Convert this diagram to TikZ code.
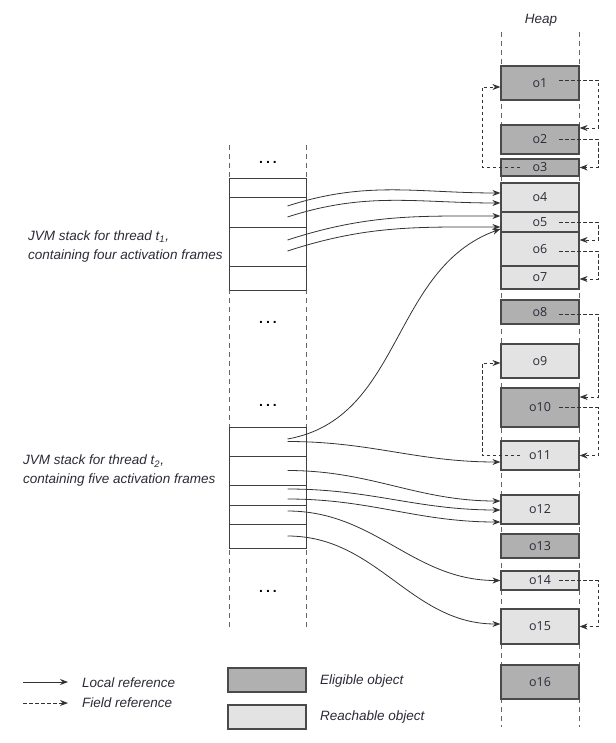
\documentclass[tikz,border=0pt]{standalone}
\usepackage{fontspec}
\setmainfont{Liberation Sans}
\newfontfamily\objfont{Open Sans}
\usetikzlibrary{arrows.meta}
\definecolor{eligible}{HTML}{B0B0B0}
\definecolor{reachable}{HTML}{E3E3E3}
\definecolor{edge}{HTML}{4A4A4A}
\definecolor{ink}{HTML}{2B2B38}
\tikzset{
	obj/.style={draw=edge, line width=1.2pt, minimum width=78pt, inner sep=0pt, text=ink, font=\objfont\fontsize{12.5}{14}\selectfont},
	elig/.style={obj, fill=eligible},
	reach/.style={obj, fill=reachable},
	actframe/.style={draw=black!75, fill=white, line width=0.9pt, minimum width=77pt, inner sep=0pt},
	lane/.style={draw=black!60, line width=0.9pt, dash pattern=on 5pt off 4pt},
	localref/.style={draw=black!80, line width=0.8pt, -{Stealth[length=8pt,width=6pt]}},
	fieldref/.style={draw=black!80, line width=0.8pt, dash pattern=on 3.5pt off 2.5pt, -{Stealth[length=8pt,width=6pt]}},
	lbl/.style={font=\fontsize{13.5}{19}\selectfont\itshape, text=ink, inner sep=0pt, align=left},
	dots/.style={font=\fontsize{14}{15}\selectfont\bfseries, inner sep=0pt}
}
\begin{document}
\begin{tikzpicture}[x=1pt, y=-1pt]
	\useasboundingbox (0,0) rectangle (615,743);
	% stack and heap columns
	\draw[lane] (229,145) -- (229,628);
	\draw[lane] (306,145) -- (306,628);
	\draw[lane] (501,32) -- (501,727);
	\draw[lane] (579,32) -- (579,727);
	\node[lbl, anchor=center] (heap) at (541,20) {Heap};
	
	% thread t1
	\node[dots] (dt1) at (268,162) {.\hspace{3pt}.\hspace{3pt}.};
	\node[actframe, minimum height=19pt] (s1f1) at (267.5,187.5) {};
	\node[actframe, minimum height=30pt] (s1f2) at (267.5,212) {};
	\node[actframe, minimum height=39pt] (s1f3) at (267.5,246.5) {};
	\node[actframe, minimum height=24pt] (s1f4) at (267.5,278) {};
	\node[dots] (dt2) at (268,322) {.\hspace{3pt}.\hspace{3pt}.};
	\node[lbl, anchor=west] (t1lbl) at (28,246.5) {JVM stack for thread t\textsubscript{1},\\containing four activation frames};
	
	% thread t2
	\node[dots] (dt3) at (268,405) {.\hspace{3pt}.\hspace{3pt}.};
	\node[actframe, minimum height=29pt] (s2f1) at (267.5,441.5) {};
	\node[actframe, minimum height=29pt] (s2f2) at (267.5,470.5) {};
	\node[actframe, minimum height=20pt] (s2f3) at (267.5,495) {};
	\node[actframe, minimum height=19pt] (s2f4) at (267.5,514.5) {};
	\node[actframe, minimum height=24pt] (s2f5) at (267.5,536) {};
	\node[dots] (dt4) at (268,591) {.\hspace{3pt}.\hspace{3pt}.};
	\node[lbl, anchor=west] (t2lbl) at (23,471) {JVM stack for thread t\textsubscript{2},\\containing five activation frames};
	
	% heap objects
	\node[elig, minimum height=34pt] (o1) at (540,83) {o1};
	\node[elig, minimum height=29pt] (o2) at (540,139.5) {o2};
	\node[elig, minimum height=17pt] (o3) at (540,167.5) {o3};
	\node[reach, minimum height=29pt] (o4) at (540,197.5) {o4};
	\node[reach, minimum height=20pt] (o5) at (540,222) {o5};
	\node[reach, minimum height=34pt] (o6) at (540,249) {o6};
	\node[reach, minimum height=23pt] (o7) at (540,277.5) {o7};
	\node[elig, minimum height=24pt] (o8) at (540,312) {o8};
	\node[reach, minimum height=34pt] (o9) at (540,361) {o9};
	\node[elig, minimum height=39pt] (o10) at (540,407.5) {o10};
	\node[reach, minimum height=29pt] (o11) at (540,455.5) {o11};
	\node[reach, minimum height=29pt] (o12) at (540,509.5) {o12};
	\node[elig, minimum height=24pt] (o13) at (540,546) {o13};
	\node[reach, minimum height=19pt] (o14) at (540,580.5) {o14};
	\node[reach, minimum height=35pt] (o15) at (540,626.5) {o15};
	\node[elig, minimum height=34pt] (o16) at (540,682) {o16};
	
	% field references
	\draw[fieldref] ([xshift=19pt,yshift=3pt]o1.center) -- ++(39,0) |- ([yshift=11.5pt]o2.east);
	\draw[fieldref] ([xshift=19pt]o2.center) -- ++(39,0) |- (o3.east);
	\draw[fieldref] ([xshift=-20pt]o3.center) -- ++(-38,0) |- ([yshift=-4pt]o1.west);
	\draw[fieldref] ([xshift=19pt]o5.center) -- ++(39,0) |- ([yshift=9pt]o6.east);
	\draw[fieldref] ([xshift=19pt,yshift=-2pt]o6.center) -- ++(39,0) |- ([yshift=-1.5pt]o7.east);
	\draw[fieldref] ([xshift=19pt,yshift=-2pt]o8.center) -- ++(39,0) |- ([yshift=10.5pt]o10.east);
	\draw[fieldref] ([xshift=19pt]o10.center) -- ++(39,0) |- (o11.east);
	\draw[fieldref] ([xshift=-20pt]o11.center) -- ++(-38,0) |- ([yshift=-2pt]o9.west);
	\draw[fieldref] ([xshift=19pt]o14.center) -- ++(39,0) |- (o15.east);
	
	% local references
	\draw[localref] ([xshift=20pt,yshift=6pt]s1f2.center) to[out=18,in=180] ([yshift=4.5pt]o4.west);
	\draw[localref] ([xshift=20pt,yshift=-5pt]s1f2.center) to[out=18,in=180] ([yshift=-5.5pt]o4.west);
	\draw[localref] ([xshift=20pt,yshift=6.5pt]s1f3.center) to[out=18,in=180] ([yshift=6pt]o5.west);
	\draw[localref] ([xshift=20pt,yshift=-4.5pt]s1f3.center) to[out=18,in=180] ([yshift=-5pt]o5.west);
	\draw[localref] ([xshift=20pt,yshift=2.5pt]s2f1.center) to[out=10,in=200] ([yshift=-7pt]o5.west);
	\draw[localref] ([xshift=20pt]s2f1.center) to[out=0,in=180] ([yshift=-6.5pt]o11.west);
	\draw[localref] ([xshift=20pt]s2f2.center) to[out=0,in=180] ([yshift=8.5pt]o12.west);
	\draw[localref] ([xshift=20pt,yshift=6pt]s2f3.center) to[out=0,in=180] ([yshift=-0.5pt]o12.west);
	\draw[localref] ([xshift=20pt,yshift=-4pt]s2f3.center) to[out=0,in=180] ([yshift=-12.5pt]o12.west);
	\draw[localref] ([xshift=20pt,yshift=3.5pt]s2f4.center) to[out=0,in=180] (o14.west);
	\draw[localref] ([xshift=20pt]s2f5.center) to[out=0,in=180] ([yshift=2.5pt]o15.west);
	
	% legend
	\coordinate (lk1) at (23,682);
	\coordinate (lk2) at (68,682);
	\coordinate (fk1) at (23,703);
	\coordinate (fk2) at (68,703);
	\draw[localref] (lk1) -- (lk2);
	\draw[fieldref] (fk1) -- (fk2);
	\node[lbl, anchor=west] (lklbl) at (82,683) {Local reference};
	\node[lbl, anchor=west] (fklbl) at (82,703) {Field reference};
	\node[elig, minimum height=24pt] (keyelig) at (267,680) {};
	\node[reach, minimum height=24pt] (keyreach) at (267,717) {};
	\node[lbl, anchor=west] (eliglbl) at (320,681) {Eligible object};
	\node[lbl, anchor=west] (reachlbl) at (320,717) {Reachable object};
\end{tikzpicture}
\end{document}
